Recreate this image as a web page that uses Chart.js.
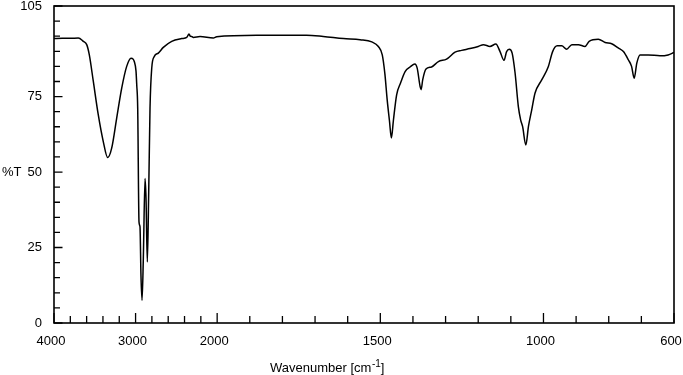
<!DOCTYPE html>
<html>
<head>
<meta charset="utf-8">
<title>IR spectrum</title>
<script src="https://cdn.jsdelivr.net/npm/chart.js@4.4.1/dist/chart.umd.min.js"></script>
<style>
  body { margin: 0; background: #fff; }
  #wrap { width: 683px; height: 375px; }
</style>
</head>
<body>
<div id="wrap"><canvas id="spectrum" width="683" height="375"></canvas></div>
<script>
// spectrum: wavenumber (cm-1) and %T
var wavenumbers = [4000, 3900, 3800, 3702, 3641, 3599, 3567, 3518, 3457, 3396, 3342, 3293, 3232, 3170, 3109,
                   3056, 3030, 3016, 2995, 2986, 2974, 2958, 2946, 2934, 2921, 2905, 2884, 2872, 2856, 2839,
                   2823, 2802, 2770, 2721, 2660, 2557, 2435, 2373, 2345, 2330, 2312, 2292, 2210, 2047, 2006,
                   1879, 1726, 1675, 1613, 1562, 1526, 1506, 1494, 1486, 1479, 1472, 1466, 1460, 1450, 1438,
                   1424, 1409, 1394, 1387, 1378, 1375, 1370, 1360, 1343, 1322, 1297, 1271, 1251, 1225, 1200,
                   1184, 1164, 1146, 1133, 1121, 1113, 1105, 1096, 1087, 1077, 1070, 1064, 1054, 1046, 1036,
                   1026, 1005, 985, 972, 958, 944, 929, 913, 893, 873, 860, 832, 811, 791, 771,
                   755, 740, 730, 722, 714, 704, 679, 643, 618, 600];
var transmittance = [94.2, 94.3, 94.3, 94.4, 93.3, 92.2, 88.8, 80.0, 68.9, 60.1, 54.8, 57.9, 67.8, 77.8, 85.0,
                     87.7, 87.4, 86.6, 83.5, 79.0, 71.2, 33.5, 31.9, 15.8, 7.5, 21.4, 47.9, 41.3, 20.2, 43.5,
                     71.2, 84.4, 88.3, 89.4, 91.3, 93.3, 94.2, 94.6, 95.7, 95.0, 94.9, 94.6, 94.9, 94.4, 94.8,
                     95.3, 95.3, 94.9, 94.2, 93.8, 93.1, 91.6, 88.8, 82.5, 74.0, 67.0, 61.3, 67.0, 75.6, 79.5,
                     83.3, 84.8, 85.8, 84.4, 78.3, 77.3, 80.6, 84.1, 84.8, 86.6, 87.4, 89.7, 90.3, 90.9, 91.6,
                     92.2, 91.6, 92.4, 89.9, 87.0, 89.9, 90.7, 89.4, 82.8, 71.7, 67.3, 65.1, 59.0, 65.1, 70.6,
                     76.1, 80.6, 85.0, 89.9, 91.8, 91.8, 90.7, 92.2, 92.2, 91.6, 93.3, 94.0, 92.9, 92.5, 91.1,
                     89.9, 87.2, 85.0, 81.1, 86.1, 88.8, 88.8, 88.5, 88.8, 89.6];

var xLabelTicks = [4000, 3000, 2000, 1500, 1000, 600];
var xMinorTicks = [3800, 3600, 3400, 3200, 2800, 2600, 2400, 2200, 1900, 1800, 1700, 1600,
                   1400, 1300, 1200, 1100, 900, 800, 700];
var yLabelTicks = [0, 25, 50, 75, 105];
var yMinorTicks = [5, 10, 15, 20, 30, 35, 40, 45, 55, 60, 65, 70, 80, 85, 90, 95, 100];

var fontFamily = "'Liberation Sans', Arial, sans-serif";

// the wavenumber axis is split: 4000-2000 is drawn 4x compressed
function toAxis(w) {
   return w >= 2000 ? (4000 - w) / 4 : 500 + (2000 - w);
}
function fromAxis(p) {
   return p <= 500 ? 4000 - p * 4 : 2000 - (p - 500);
}

var points = [];
for (var i = 0; i < wavenumbers.length; i++) {
   points.push({ x: toAxis(wavenumbers[i]), y: transmittance[i] });
}

// frame, inward ticks, %T and axis title
var frameAndTicks = {
   id: 'frameAndTicks',
   afterDraw: function(chart) {
      var ctx = chart.ctx;
      var a = chart.chartArea;
      var xs = chart.scales.x;
      var ys = chart.scales.y;
      ctx.save();
      ctx.strokeStyle = '#000';
      ctx.lineWidth = 1.3;
      ctx.beginPath();
      for (var i = 0; i < xMinorTicks.length; i++) {
         var px = xs.getPixelForValue(toAxis(xMinorTicks[i]));
         ctx.moveTo(px, a.bottom); ctx.lineTo(px, a.bottom - 7);
      }
      for (var i = 0; i < xLabelTicks.length; i++) {
         var px = xs.getPixelForValue(toAxis(xLabelTicks[i]));
         ctx.moveTo(px, a.bottom); ctx.lineTo(px, a.bottom - 10);
      }
      for (var i = 0; i < yMinorTicks.length; i++) {
         var py = ys.getPixelForValue(yMinorTicks[i]);
         ctx.moveTo(a.left, py); ctx.lineTo(a.left + 6, py);
      }
      for (var i = 0; i < yLabelTicks.length; i++) {
         var py = ys.getPixelForValue(yLabelTicks[i]);
         ctx.moveTo(a.left, py); ctx.lineTo(a.left + 8.5, py);
      }
      ctx.stroke();

      ctx.lineWidth = 1.6;
      ctx.strokeRect(a.left, a.top, a.right - a.left, a.bottom - a.top);

      ctx.fillStyle = '#000';
      ctx.font = '13px ' + fontFamily;
      ctx.textAlign = 'left';
      ctx.textBaseline = 'middle';
      ctx.fillText('%T', 2, ys.getPixelForValue(50));

      // Wavenumber [cm-1] with raised -1
      ctx.textBaseline = 'alphabetic';
      var tx = 270, ty = 372;
      var part1 = 'Wavenumber [cm';
      ctx.fillText(part1, tx, ty);
      tx += ctx.measureText(part1).width;
      ctx.font = '10px ' + fontFamily;
      ctx.fillText('-1', tx + 0.5, ty - 5);
      tx += ctx.measureText('-1').width + 0.5;
      ctx.font = '13px ' + fontFamily;
      ctx.fillText(']', tx, ty);
      ctx.restore();
   }
};

var ctx = document.getElementById('spectrum').getContext('2d');
var chart = new Chart(ctx, {
   type: 'line',
   data: {
      datasets: [{
         label: '%T',
         data: points,
         borderColor: '#000',
         borderWidth: 1.5,
         pointRadius: 0,
         fill: false,
         cubicInterpolationMode: 'monotone'
      }]
   },
   options: {
      responsive: false,
      devicePixelRatio: 1,
      animation: false,
      layout: { padding: { left: 0, right: 9, top: 6, bottom: 0 } },
      plugins: { legend: { display: false }, tooltip: { enabled: false } },
      scales: {
         x: {
            type: 'linear',
            min: 0,
            max: 1900,
            grid: { display: false, drawTicks: false },
            border: { display: false },
            afterBuildTicks: function(scale) {
               scale.ticks = xLabelTicks.map(function(w) { return { value: toAxis(w) }; });
            },
            afterFit: function(scale) {
               scale.height = 52;
               scale.paddingLeft = 0;
               scale.paddingRight = 0;
            },
            ticks: {
               autoSkip: false,
               maxRotation: 0,
               padding: 11,
               labelOffset: -3,
               color: '#000',
               font: { family: fontFamily, size: 13 },
               callback: function(value) { return String(Math.round(fromAxis(value))); }
            }
         },
         y: {
            min: 0,
            max: 105,
            grid: { display: false, drawTicks: false },
            border: { display: false },
            afterBuildTicks: function(scale) {
               scale.ticks = yLabelTicks.map(function(v) { return { value: v }; });
            },
            afterFit: function(scale) {
               scale.width = 54;
               scale.paddingTop = 0;
               scale.paddingBottom = 0;
            },
            ticks: {
               autoSkip: false,
               padding: 12,
               color: '#000',
               font: { family: fontFamily, size: 13 }
            }
         }
      }
   },
   plugins: [frameAndTicks]
});
</script>
</body>
</html>
